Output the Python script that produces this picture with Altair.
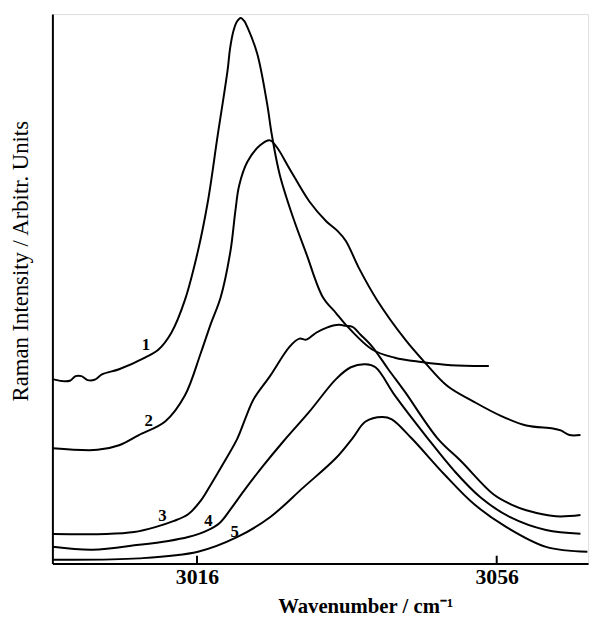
import altair as alt
import pandas as pd

# Curve 1
c1_x = [2996.75, 2997.97, 2999.03, 2999.8, 3000.57, 3001.4, 3002.32, 3003.37, 3005.6, 3009.12,
        3010.87, 3012.58, 3014.38, 3016.13, 3017.45, 3018.76, 3020.08, 3020.41, 3020.87, 3021.3,
        3021.83, 3022.3, 3022.71,
        3024.03, 3025.34, 3026.0, 3027.05, 3028.86, 3030.6, 3032.8, 3034.55, 3035.87, 3039.38,
        3042.4, 3045.96, 3049.9, 3054.95]
c1_y = [187, 185, 185.3, 190, 190, 186, 186.3, 192, 197, 209,
        217, 234, 267, 317, 367, 434, 500, 522, 540, 549,
        553, 550, 544,
        517, 467, 434, 394, 350, 314, 270, 254, 242, 217,
        208.7, 204.3, 201, 200.3]

# Curve 2
c2_x = [2996.75, 3002.71, 3005.6, 3008.24, 3011.75, 3014.38, 3016.53, 3017.84, 3019.16, 3020.47,
        3021.13, 3021.62, 3022.71, 3024.42, 3025.74, 3026.66, 3028.37, 3031.0, 3033.24, 3034.78,
        3035.87, 3037.58, 3040.04, 3043.8, 3046.4, 3049.42, 3052.97, 3056.49, 3059.95, 3063.5,
        3064.55, 3065.7, 3067.18]
c2_y = [117, 115.3, 120, 130.3, 144, 170.3, 214, 243, 270, 317,
        358, 383, 407, 424, 429, 422, 400, 367, 347, 337,
        327, 300, 267, 227, 204, 180, 164, 150, 140, 137,
        135, 130.3, 130.3]

# Curve 3
c3_x = [2996.75, 3003.86, 3007.6, 3010.43, 3012.84, 3014.82, 3016.53, 3017.84, 3019.55, 3021.4,
        3022.45, 3023.59, 3025.74, 3028.37, 3029.68, 3030.6, 3031.9, 3033.24, 3034.95, 3035.87,
        3036.75, 3037.84, 3039.38, 3041.53, 3043.76, 3048.1, 3051.22, 3055.6, 3058.2, 3059.95,
        3063.9, 3067.18]
c3_y = [30, 30, 32, 37, 43, 50, 64, 80, 102, 127,
        147, 167, 190, 220, 228, 227, 234, 239, 242, 241,
        240, 232, 220, 197, 174, 127, 104, 70, 59, 54,
        48, 49.3]

# Curve 4
c4_x = [2996.75, 3002.05, 3008.24, 3012.18, 3014.82, 3017.18, 3018.99, 3020.47, 3022.28, 3024.82,
        3027.54, 3031.0, 3034.55, 3036.53, 3038.5, 3039.82, 3042.45, 3046.79, 3050.34, 3053.86,
        3057.8, 3062.58, 3067.18]
c4_y = [17, 14, 19, 23, 27, 33, 41, 55, 74, 99,
        124, 154, 187, 199, 202, 199, 170, 127, 94, 67,
        47, 34, 30.3]

# Curve 5
c5_x = [2996.75, 3008.24, 3016.13, 3021.4, 3025.74, 3030.17, 3034.55, 3036.75, 3038.5, 3040.7,
        3042.0, 3044.64, 3049.03, 3052.97, 3057.3, 3062.58, 3068.1]
c5_y = [4, 5.3, 12, 27, 47, 77, 107, 127, 144, 148.7,
        146.3, 127, 90.3, 60.3, 37, 17, 12]

label_text = ["1", "2", "3", "4", "5"]
label_x = [3009.2, 3009.55, 3011.4, 3017.54, 3021.04]
label_y = [221, 144.3, 48, 43, 32]

tick_values = [3016, 3056]
tick_len = 8

rows = []
for name, xs, ys in [("1", c1_x, c1_y), ("2", c2_x, c2_y), ("3", c3_x, c3_y),
                     ("4", c4_x, c4_y), ("5", c5_x, c5_y)]:
    for xv, yv in zip(xs, ys):
        rows.append({"curve": name, "wn": xv, "I": yv})
df = pd.DataFrame(rows)
lab = pd.DataFrame({"t": label_text, "wn": label_x, "I": label_y})
ticks = pd.DataFrame({"wn": tick_values, "y0": [0] * len(tick_values), "y1": [tick_len] * len(tick_values)})

xscale = alt.Scale(domain=[2996.7, 3068.2], nice=False, zero=False)
yscale = alt.Scale(domain=[0, 557], nice=False, zero=False)

xaxis = alt.Axis(values=tick_values, ticks=False, grid=False, domainColor="black", domainWidth=2,
                 labelFont="Liberation Serif", labelFontSize=22, labelFontWeight="bold",
                 labelColor="black", labelPadding=3, format="d",
                 title="Wavenumber / cm⁻¹", titleFont="Liberation Serif", titleFontSize=21,
                 titleFontWeight="bold", titleColor="black", titleX=317, titleY=50,
                 titleAlign="center", titleBaseline="alphabetic", titleAnchor="start")
yaxis = alt.Axis(labels=False, ticks=False, grid=False, domainColor="black", domainWidth=2,
                 title="Raman Intensity / Arbitr. Units", titleFont="Liberation Serif",
                 titleFontSize=23, titleFontWeight=500, titleColor="black",
                 titleX=-25, titleY=250, titleAngle=-90, titleAlign="center",
                 titleBaseline="alphabetic", titleAnchor="start")

lines = alt.Chart(df).mark_line(color="black", strokeWidth=2, interpolate="catmull-rom").encode(
    x=alt.X("wn:Q", scale=xscale, axis=xaxis),
    y=alt.Y("I:Q", scale=yscale, axis=yaxis),
    detail="curve:N",
)

texts = alt.Chart(lab).mark_text(font="Liberation Serif", fontSize=17, fontWeight="bold",
                                 color="black", baseline="middle", align="center").encode(
    x=alt.X("wn:Q", scale=xscale),
    y=alt.Y("I:Q", scale=yscale),
    text="t:N",
)

tickmarks = alt.Chart(ticks).mark_rule(color="black", strokeWidth=2).encode(
    x=alt.X("wn:Q", scale=xscale),
    y=alt.Y("y0:Q", scale=yscale),
    y2="y1:Q",
)

chart = alt.layer(lines, tickmarks, texts).properties(
    width=543, height=557,
    autosize=alt.AutoSizeParams(type="none"),
    padding={"left": 45, "top": 2, "right": 8, "bottom": 52},
).configure_view(stroke=None).configure(background="white")

chart.save("out.html", embed_options={"renderer": "svg", "actions": False})
